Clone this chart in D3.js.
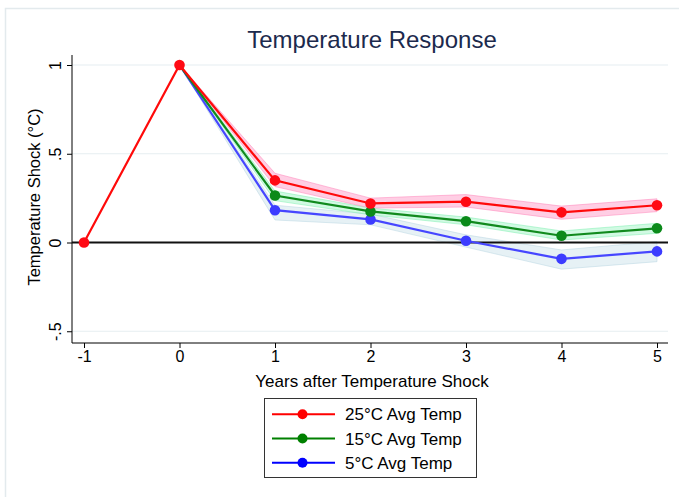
<!DOCTYPE html>
<html>
<head>
<meta charset="utf-8">
<script src="https://cdn.jsdelivr.net/npm/d3@7"></script>
<style>
  html, body { margin: 0; padding: 0; background: #ffffff; }
  svg { display: block; font-family: "Liberation Sans", Arial, Helvetica, sans-serif; }
</style>
</head>
<body>
<script>
// Horizon (years after the shock) and tick labels
const years = [-1, 0, 1, 2, 3, 4, 5];
const xTicks = [-1, 0, 1, 2, 3, 4, 5];
const xTickLabels = ["-1", "0", "1", "2", "3", "4", "5"];
const yTicks = [1, 0.5, 0, -0.5];
const yTickLabels = ["1", ".5", "0", "-.5"];

// Point estimates by average temperature (null = not estimated)
const hot25 = [0, 1, 0.35, 0.22, 0.23, 0.17, 0.21];
const mid15 = [null, 1, 0.265, 0.175, 0.12, 0.038, 0.08];
const cold5 = [null, 1, 0.182, 0.13, 0.01, -0.092, -0.05];

// Confidence bands (lower / upper)
const hot25Lo = [null, 1, 0.315, 0.194, 0.2, 0.131, 0.174];
const hot25Hi = [null, 1, 0.39, 0.25, 0.27, 0.205, 0.246];
const mid15Lo = [null, 1, 0.236, 0.156, 0.1, 0.014, 0.052];
const mid15Hi = [null, 1, 0.29, 0.194, 0.143, 0.065, 0.108];
const cold5Lo = [null, 1, 0.127, 0.1, -0.026, -0.15, -0.108];
const cold5Hi = [null, 1, 0.21, 0.16, 0.043, -0.042, 0.005];

const seriesNames = ["25°C Avg Temp", "15°C Avg Temp", "5°C Avg Temp"];

const W = 679, H = 497;
const svg = d3.select("body").append("svg").attr("width", W).attr("height", H);

// Outer graph frame
svg.append("rect").attr("x", 5.5).attr("y", 8.5).attr("width", W).attr("height", H)
  .attr("fill", "#ffffff").attr("stroke", "#e3eaed").attr("stroke-width", 1.5);

const plot = { left: 72, right: 668, top: 55, bottom: 343 };

const x = d3.scaleLinear().domain([-1, 5]).range([84, 657]);
const y = d3.scaleLinear().domain([0, 1]).range([242.5, 65]);

// Title
svg.append("text").attr("x", 372).attr("y", 48).attr("text-anchor", "middle")
  .attr("font-size", 24).attr("fill", "#1c2a4d").text("Temperature Response");

// Gridlines
svg.append("g").selectAll("line").data(yTicks.filter(v => v !== 0)).join("line")
  .attr("x1", plot.left).attr("x2", plot.right)
  .attr("y1", d => y(d)).attr("y2", d => y(d))
  .attr("stroke", "#e6eef1").attr("stroke-width", 1.2);

// Y axis (rotated tick labels)
const yAxis = d3.axisLeft(y).tickValues(yTicks).tickSize(5)
  .tickFormat((d, i) => yTickLabels[i]);
const gy = svg.append("g").attr("transform", `translate(${plot.left},0)`).call(yAxis)
  .attr("font-size", null).attr("font-family", null);
gy.select(".domain").attr("d", `M0,${plot.top}V${plot.bottom}`).attr("stroke", "#000");
gy.selectAll(".tick line").attr("stroke", "#000");
gy.selectAll(".tick text")
  .style("font-size", "16px").attr("fill", "#000")
  .attr("x", null).attr("dy", null).attr("y", null)
  .attr("transform", "translate(-11,0) rotate(-90)")
  .attr("text-anchor", "middle");

// X axis
const xAxis = d3.axisBottom(x).tickValues(xTicks).tickSize(5)
  .tickFormat((d, i) => xTickLabels[i]);
const gx = svg.append("g").attr("transform", `translate(0,${plot.bottom})`).call(xAxis)
  .attr("font-size", null).attr("font-family", null);
gx.select(".domain").attr("d", `M${plot.left},0H${plot.right}`).attr("stroke", "#000");
gx.selectAll(".tick line").attr("stroke", "#000");
gx.selectAll(".tick text").style("font-size", "16px").attr("fill", "#000").attr("y", 8);

// Axis titles
svg.append("text").attr("x", 372).attr("y", 387).attr("text-anchor", "middle")
  .attr("font-size", 17).attr("fill", "#000").text("Years after Temperature Shock");
svg.append("text").attr("transform", "translate(40,197) rotate(-90)")
  .attr("text-anchor", "middle").attr("font-size", 16.5).attr("fill", "#000")
  .text("Temperature Shock (°C)");

// Confidence bands
const bands = [
  { lo: cold5Lo, hi: cold5Hi, fill: "#b8d6e2", op: 0.35 },
  { lo: mid15Lo, hi: mid15Hi, fill: "#7cf0b0", op: 0.35 },
  { lo: hot25Lo, hi: hot25Hi, fill: "#ff7fb8", op: 0.38 }
];
const area = d3.area()
  .defined(d => d.lo !== null)
  .x(d => x(d.t)).y0(d => y(d.lo)).y1(d => y(d.hi));
bands.forEach(b => {
  const pts = years.map((t, i) => ({ t, lo: b.lo[i], hi: b.hi[i] }));
  svg.append("path").datum(pts).attr("d", area)
    .attr("fill", b.fill).attr("fill-opacity", b.op)
    .attr("stroke", b.fill).attr("stroke-opacity", 0.5).attr("stroke-width", 1);
});

// Zero reference line
svg.append("line").attr("x1", plot.left).attr("x2", plot.right)
  .attr("y1", y(0)).attr("y2", y(0)).attr("stroke", "#111").attr("stroke-width", 2);

// Series lines and markers
const series = [
  { vals: cold5, color: "#4646ff", mark: "#3c3cff", from: 2 },
  { vals: mid15, color: "#118a1e", mark: "#0b8a1a", from: 2 },
  { vals: hot25, color: "#ff0a0a", mark: "#ff0a14", from: 0 }
];
const line = d3.line().defined(d => d.v !== null).x(d => x(d.t)).y(d => y(d.v));
series.forEach(s => {
  const pts = years.map((t, i) => ({ t, v: s.vals[i] }));
  svg.append("path").datum(pts).attr("d", line)
    .attr("fill", "none").attr("stroke", s.color).attr("stroke-width", 2.2);
  svg.append("g").selectAll("circle")
    .data(pts.filter((d, i) => d.v !== null && i >= s.from)).join("circle")
    .attr("cx", d => x(d.t)).attr("cy", d => y(d.v)).attr("r", 5.3)
    .attr("fill", s.mark);
});

// Legend
const legend = svg.append("g");
legend.append("rect").attr("x", 264.5).attr("y", 398.5).attr("width", 212).attr("height", 79)
  .attr("fill", "#fff").attr("stroke", "#333").attr("stroke-width", 1);
const legendColors = ["#ff0000", "#008000", "#0000ff"];
seriesNames.forEach((name, i) => {
  const ly = 414.3 + i * 24.2;
  legend.append("line").attr("x1", 272).attr("x2", 335).attr("y1", ly).attr("y2", ly)
    .attr("stroke", legendColors[i]).attr("stroke-width", 2);
  legend.append("circle").attr("cx", 302.5).attr("cy", ly).attr("r", 5)
    .attr("fill", legendColors[i]);
  legend.append("text").attr("x", 345).attr("y", ly + 6).attr("font-size", 17)
    .attr("fill", "#000").text(name);
});
</script>
</body>
</html>
